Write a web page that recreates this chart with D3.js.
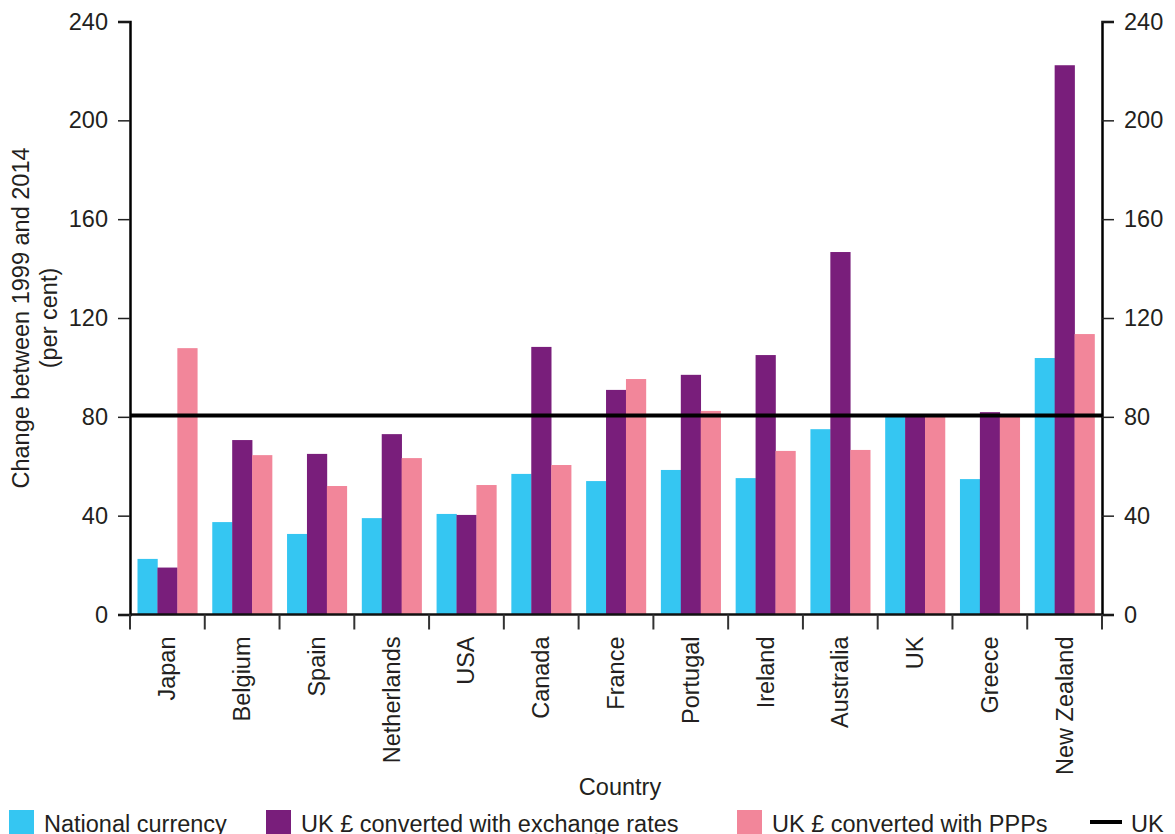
<!DOCTYPE html>
<html>
<head>
<meta charset="utf-8">
<script src="https://cdn.jsdelivr.net/npm/d3@7"></script>
<style>
  html, body { margin: 0; padding: 0; background: #fff; }
  svg { display: block; }
  text { font-family: "Liberation Sans", Arial, sans-serif; fill: #231f20; }
</style>
</head>
<body>
<svg id="chart" width="1175" height="834"></svg>
<script>
const countries = ["Japan","Belgium","Spain","Netherlands","USA","Canada","France","Portugal","Ireland","Australia","UK","Greece","New Zealand"];
const nationalCurrency = [22.5, 37.4, 32.6, 39, 40.7, 56.9, 54, 58.5, 55.2, 75, 80, 54.8, 103.8];
const exchangeRates    = [19, 70.6, 65, 73, 40.3, 108.3, 90.9, 97, 105, 146.7, 80, 81.9, 222.3];
const ppps             = [107.8, 64.5, 52, 63.3, 52.4, 60.5, 95.3, 82.4, 66.2, 66.6, 80, 80, 113.5];
const ukLevel = 80.5;
const yTicks = [0, 40, 80, 120, 160, 200, 240];
const seriesNames = ["National currency", "UK £ converted with exchange rates", "UK £ converted with PPPs"];
const seriesColors = ["#35c6f2", "#791e7b", "#f2869a"];
const ukLabel = "UK";

const FS = 23.5;
const svg = d3.select("#chart");
const pLeft = 130, pRight = 1102, pTop = 21.5, pBottom = 614.5;

const x = d3.scaleBand().domain(countries).range([pLeft, pRight]).paddingInner(0).paddingOuter(0);
const y = d3.scaleLinear().domain([0, 240]).range([pBottom, pTop]);
const groupPad = 7.5;
const xs = d3.scaleBand().domain(d3.range(3)).range([groupPad, x.bandwidth() - groupPad]).padding(0);

const series = [nationalCurrency, exchangeRates, ppps];

// bars
series.forEach((vals, si) => {
  svg.append("g").selectAll("rect").data(countries).join("rect")
    .attr("x", (d) => x(d) + xs(si))
    .attr("width", xs.bandwidth() + 0.3)
    .attr("y", (d, i) => y(vals[i]))
    .attr("height", (d, i) => y(0) - y(vals[i]))
    .attr("fill", seriesColors[si]);
});

// left axis
const yAxisL = svg.append("g").attr("transform", `translate(${pLeft},0)`)
  .call(d3.axisLeft(y).tickValues(yTicks).tickSize(12).tickPadding(10));
// right axis
const yAxisR = svg.append("g").attr("transform", `translate(${pRight},0)`)
  .call(d3.axisRight(y).tickValues(yTicks).tickSize(12).tickPadding(10));
[yAxisL, yAxisR].forEach(g => {
  g.select(".domain").attr("stroke", "#000").attr("stroke-width", 2.5);
  g.selectAll(".tick line").attr("stroke", "#222").attr("stroke-width", 1.5);
  g.selectAll(".tick text").attr("font-size", FS).attr("fill", "#231f20")
    .attr("font-family", '"Liberation Sans", Arial, sans-serif');
});

// bottom axis with ticks at band boundaries
const xAxis = svg.append("g").attr("transform", `translate(0,${pBottom})`);
xAxis.append("line").attr("x1", pLeft).attr("x2", pRight).attr("y1", 0).attr("y2", 0)
  .attr("stroke", "#111").attr("stroke-width", 2.5);
const boundaries = countries.map(c => x(c)).concat([pRight]);
xAxis.selectAll("line.tk").data(boundaries).join("line").attr("class", "tk")
  .attr("x1", d => d).attr("x2", d => d).attr("y1", 0).attr("y2", 15)
  .attr("stroke", "#333").attr("stroke-width", 2);
xAxis.selectAll("text").data(countries).join("text")
  .attr("transform", d => `translate(${x(d) + x.bandwidth() / 2 + 8},22) rotate(-90)`)
  .attr("text-anchor", "end")
  .attr("font-size", FS)
  .text(d => d);

// UK reference line
svg.append("line")
  .attr("x1", pLeft).attr("x2", pRight)
  .attr("y1", y(ukLevel)).attr("y2", y(ukLevel))
  .attr("stroke", "#000").attr("stroke-width", 4);

// y axis title
const yt = svg.append("text").attr("transform", `translate(29,318) rotate(-90)`)
  .attr("text-anchor", "middle").attr("font-size", FS);
yt.append("tspan").attr("x", 0).attr("dy", 0).text("Change between 1999 and 2014");
yt.append("tspan").attr("x", 0).attr("dy", 28).text("(per cent)");

// x axis title
svg.append("text").attr("x", 620).attr("y", 795).attr("text-anchor", "middle")
  .attr("font-size", FS).text("Country");

// legend
const legendItems = [
  {name: seriesNames[0], color: seriesColors[0], x: 9, type: "rect"},
  {name: seriesNames[1], color: seriesColors[1], x: 266, type: "rect"},
  {name: seriesNames[2], color: seriesColors[2], x: 737, type: "rect"},
  {name: ukLabel, color: "#000", x: 1090, type: "line"}
];
const lg = svg.append("g");
legendItems.forEach(it => {
  if (it.type === "rect") {
    lg.append("rect").attr("x", it.x).attr("y", 810).attr("width", 25).attr("height", 26).attr("fill", it.color);
    lg.append("text").attr("x", it.x + 35).attr("y", 832).attr("font-size", FS).text(it.name);
  } else {
    lg.append("line").attr("x1", it.x).attr("x2", it.x + 32).attr("y1", 822).attr("y2", 822)
      .attr("stroke", "#000").attr("stroke-width", 4);
    lg.append("text").attr("x", it.x + 41).attr("y", 832).attr("font-size", FS).text(it.name);
  }
});
</script>
</body>
</html>
